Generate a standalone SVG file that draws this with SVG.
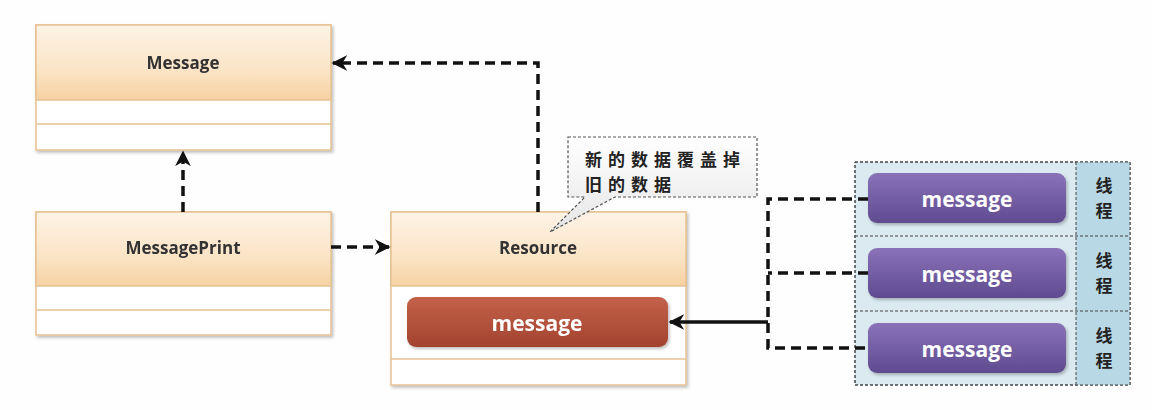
<svg xmlns="http://www.w3.org/2000/svg" width="1152" height="410" viewBox="0 0 1152 410">
<defs>
<linearGradient id="hdr" x1="0" y1="0" x2="0" y2="1">
<stop offset="0" stop-color="#fdf3e6"/><stop offset="0.6" stop-color="#fbe4c6"/><stop offset="1" stop-color="#f6d2a2"/>
</linearGradient>
<linearGradient id="red" x1="0" y1="0" x2="0" y2="1">
<stop offset="0" stop-color="#c4624a"/><stop offset="1" stop-color="#a2432f"/>
</linearGradient>
<linearGradient id="pur" x1="0" y1="0" x2="0" y2="1">
<stop offset="0" stop-color="#8a72b8"/><stop offset="1" stop-color="#5f4b8f"/>
</linearGradient>
<linearGradient id="call" x1="0" y1="0" x2="0" y2="1">
<stop offset="0" stop-color="#ffffff"/><stop offset="1" stop-color="#e6e6e6"/>
</linearGradient>
<filter id="sh" x="-5%" y="-10%" width="115%" height="130%">
<feDropShadow dx="1.5" dy="2" stdDeviation="1.5" flood-color="#000" flood-opacity="0.25"/>
</filter>
<marker id="ah" viewBox="0 0 10 10" refX="9" refY="5" markerWidth="4.5" markerHeight="4.5" orient="auto-start-reverse" markerUnits="strokeWidth">
<path d="M0,0 L10,5 L0,10 L3,5 Z" fill="#111"/>
</marker>
</defs>
<style>
.box{fill:#fff;stroke:#e6c293;stroke-width:1.5}
.hdr{fill:url(#hdr);stroke:#e6c293;stroke-width:1.5}
.row{fill:none;stroke:#e6c293;stroke-width:1.5}
.lbl{font-family:"Open Sans","Liberation Sans",sans-serif;font-weight:bold;font-size:17px;fill:#333;text-anchor:middle}
.msg{font-family:"Open Sans","Liberation Sans",sans-serif;font-weight:bold;font-size:21px;fill:#fff;text-anchor:middle}
.cn{font-family:"Noto Sans CJK SC","Liberation Sans",sans-serif;font-weight:bold;font-size:17px;fill:#222}
.con{fill:none;stroke:#111;stroke-width:3.5;stroke-dasharray:10 6}
.solid{fill:none;stroke:#111;stroke-width:3.5}
</style>
<rect width="1152" height="410" fill="#fefefe"/>

<g id="message-class" filter="url(#sh)">
<rect class="box" x="36" y="25" width="295" height="125"/>
<rect class="hdr" x="36" y="25" width="295" height="75"/>
<line class="row" x1="36" y1="124" x2="331" y2="124"/>
<text class="lbl" x="183" y="69">Message</text>
</g>

<g id="messageprint-class" filter="url(#sh)">
<rect class="box" x="36" y="212" width="295" height="123"/>
<rect class="hdr" x="36" y="212" width="295" height="74"/>
<line class="row" x1="36" y1="310" x2="331" y2="310"/>
<text class="lbl" x="183" y="254">MessagePrint</text>
</g>

<g id="resource-class" filter="url(#sh)">
<rect class="box" x="391" y="212" width="295" height="173"/>
<rect class="hdr" x="391" y="212" width="295" height="74"/>
<line class="row" x1="391" y1="359" x2="686" y2="359"/>
<text class="lbl" x="538" y="254">Resource</text>
</g>

<g id="resource-message" filter="url(#sh)">
<rect x="407" y="297" width="261" height="50" rx="9" fill="url(#red)"/>
<text class="msg" x="537" y="331">message</text>
</g>

<g id="callout">
<path d="M568,137 H757 V197 H615 L550,232 L585,197 H568 Z" fill="url(#call)" stroke="#555" stroke-width="1.2" stroke-dasharray="3 2"/>
<text class="cn" x="585" y="166" letter-spacing="6">新的数据覆盖掉</text>
<text class="cn" x="585" y="191" letter-spacing="6">旧的数据</text>
</g>

<g id="threads">
<rect x="855" y="162" width="275" height="223" fill="#dbe9f1" stroke="#444" stroke-width="1" stroke-dasharray="3 2"/>
<rect x="1076" y="162" width="54" height="223" fill="#b9d8e6"/>
<line x1="1076" y1="162" x2="1076" y2="385" stroke="#444" stroke-width="1" stroke-dasharray="3 2"/>
<line x1="855" y1="236" x2="1130" y2="236" stroke="#444" stroke-width="1" stroke-dasharray="3 2"/>
<line x1="855" y1="311" x2="1130" y2="311" stroke="#444" stroke-width="1" stroke-dasharray="3 2"/>
<rect x="855" y="162" width="275" height="223" fill="none" stroke="#444" stroke-width="1" stroke-dasharray="3 2"/>
</g>

<g id="thread1">
<rect x="868" y="173" width="198" height="50" rx="9" fill="url(#pur)" filter="url(#sh)"/>
<text class="msg" x="967" y="207">message</text>
<text class="cn" x="1104" y="192" text-anchor="middle">线</text>
<text class="cn" x="1104" y="217" text-anchor="middle">程</text>
</g>
<g id="thread2">
<rect x="868" y="248" width="198" height="50" rx="9" fill="url(#pur)" filter="url(#sh)"/>
<text class="msg" x="967" y="282">message</text>
<text class="cn" x="1104" y="267" text-anchor="middle">线</text>
<text class="cn" x="1104" y="292" text-anchor="middle">程</text>
</g>
<g id="thread3">
<rect x="868" y="323" width="198" height="50" rx="9" fill="url(#pur)" filter="url(#sh)"/>
<text class="msg" x="967" y="357">message</text>
<text class="cn" x="1104" y="342" text-anchor="middle">线</text>
<text class="cn" x="1104" y="367" text-anchor="middle">程</text>
</g>

<g id="connectors">
<path class="con" d="M183,212 V152" marker-end="url(#ah)"/>
<path class="con" d="M538,212 V63 H333" marker-end="url(#ah)"/>
<path class="con" d="M331,247 H389" marker-end="url(#ah)"/>
<path class="con" d="M868,199 H768 V348 H868"/>
<path class="con" d="M868,273 H768"/>
<path class="solid" d="M768,322 H670" marker-end="url(#ah)"/>
</g>
</svg>
